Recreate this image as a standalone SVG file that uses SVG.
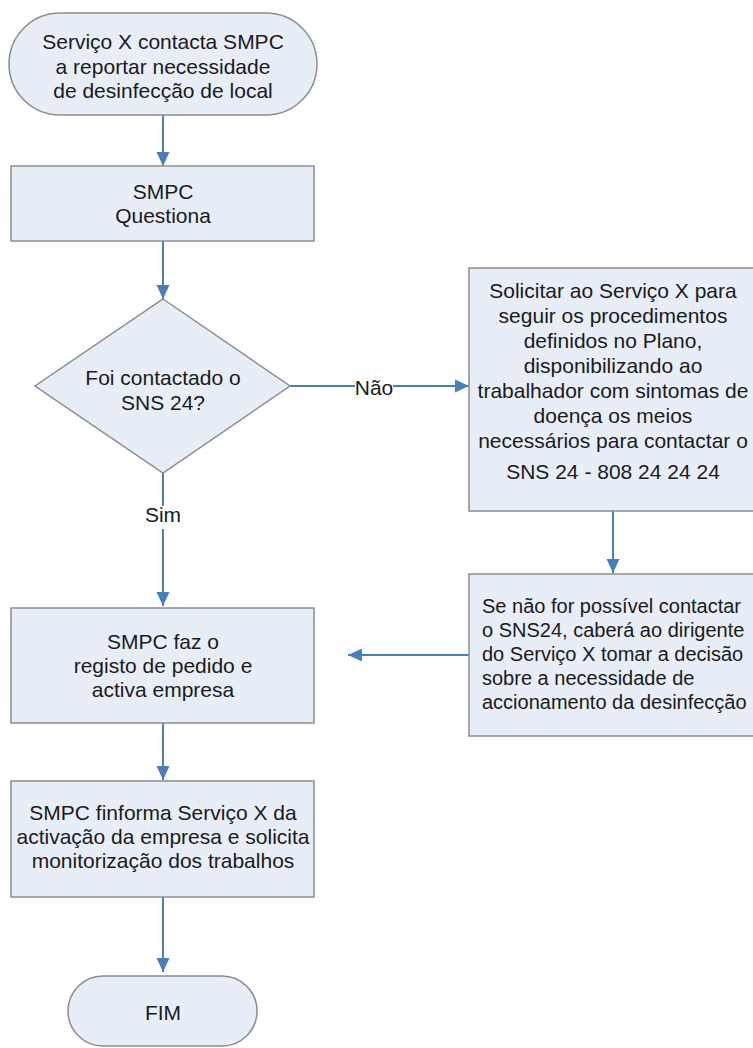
<svg xmlns="http://www.w3.org/2000/svg" width="753" height="1048" viewBox="0 0 753 1048">
<style>
.node{fill:#E8EEF8;stroke:#8C8C8C;stroke-width:1.5}
.t{font-family:"Liberation Sans",Arial,sans-serif;font-size:21px;fill:#1A1A1A;text-anchor:middle}
.tl{font-family:"Liberation Sans",Arial,sans-serif;font-size:20px;fill:#1A1A1A}
.c{stroke:#4A7EBB;stroke-width:2;fill:none}
</style>
<defs>
<marker id="ah" markerUnits="userSpaceOnUse" markerWidth="14" markerHeight="14" refX="14" refY="7" orient="auto">
<path d="M0,0.5 L14,7 L0,13.5 z" fill="#4A7EBB"/>
</marker>
</defs>
<rect width="753" height="1048" fill="#FFFFFF"/>
<g id="connectors">
<line class="c" x1="163" y1="115" x2="163" y2="166" marker-end="url(#ah)"/>
<line class="c" x1="163" y1="241" x2="163" y2="299" marker-end="url(#ah)"/>
<line class="c" x1="290" y1="386" x2="355" y2="386"/>
<line class="c" x1="393" y1="386" x2="469" y2="386" marker-end="url(#ah)"/>
<text class="t" x="374" y="395">Não</text>
<line class="c" x1="163" y1="473" x2="163" y2="506"/>
<line class="c" x1="163" y1="529" x2="163" y2="606" marker-end="url(#ah)"/>
<text class="t" x="163" y="522">Sim</text>
<line class="c" x1="613" y1="511" x2="613" y2="573" marker-end="url(#ah)"/>
<line class="c" x1="469" y1="655" x2="348" y2="655" marker-end="url(#ah)"/>
<line class="c" x1="163" y1="723" x2="163" y2="780" marker-end="url(#ah)"/>
<line class="c" x1="163" y1="897" x2="163" y2="972" marker-end="url(#ah)"/>
</g>
<g id="start">
<rect class="node" x="9" y="13" width="308" height="102" rx="51" ry="51"/>
<text class="t" x="163" y="49">Serviço X contacta SMPC</text>
<text class="t" x="163" y="74">a reportar necessidade</text>
<text class="t" x="163" y="98">de desinfecção de local</text>
</g>
<g id="questiona">
<rect class="node" x="11" y="166" width="303" height="75"/>
<text class="t" x="163" y="199">SMPC</text>
<text class="t" x="163" y="223">Questiona</text>
</g>
<g id="decision">
<polygon class="node" points="163,299 290,386 163,473 35,386"/>
<text class="t" x="163" y="385">Foi contactado o</text>
<text class="t" x="163" y="410">SNS 24?</text>
</g>
<g id="solicitar">
<rect class="node" x="469" y="268" width="290" height="243"/>
<text class="t" x="613" y="298">Solicitar ao Serviço X para</text>
<text class="t" x="613" y="323">seguir os procedimentos</text>
<text class="t" x="613" y="348">definidos no Plano,</text>
<text class="t" x="613" y="373">disponibilizando ao</text>
<text class="t" x="613" y="398">trabalhador com sintomas de</text>
<text class="t" x="613" y="423">doença os meios</text>
<text class="t" x="613" y="448">necessários para contactar o</text>
<text class="t" x="613" y="479">SNS 24 - 808 24 24 24</text>
</g>
<g id="senao">
<rect class="node" x="469" y="574" width="290" height="162"/>
<text class="tl" x="482" y="613">Se não for possível contactar</text>
<text class="tl" x="482" y="637">o SNS24, caberá ao dirigente</text>
<text class="tl" x="482" y="661">do Serviço X tomar a decisão</text>
<text class="tl" x="482" y="685">sobre a necessidade de</text>
<text class="tl" x="482" y="709">accionamento da desinfecção</text>
</g>
<g id="registo">
<rect class="node" x="11" y="608" width="303" height="115"/>
<text class="t" x="163" y="649">SMPC faz o</text>
<text class="t" x="163" y="673">registo de pedido e</text>
<text class="t" x="163" y="697">activa empresa</text>
</g>
<g id="informa">
<rect class="node" x="11" y="781" width="303" height="116"/>
<text class="t" x="163" y="820">SMPC finforma Serviço X da</text>
<text class="t" x="163" y="844">activação da empresa e solicita</text>
<text class="t" x="163" y="868">monitorização dos trabalhos</text>
</g>
<g id="fim">
<rect class="node" x="68" y="976" width="189" height="70" rx="35" ry="35"/>
<text class="t" x="163" y="1020">FIM</text>
</g>
</svg>
